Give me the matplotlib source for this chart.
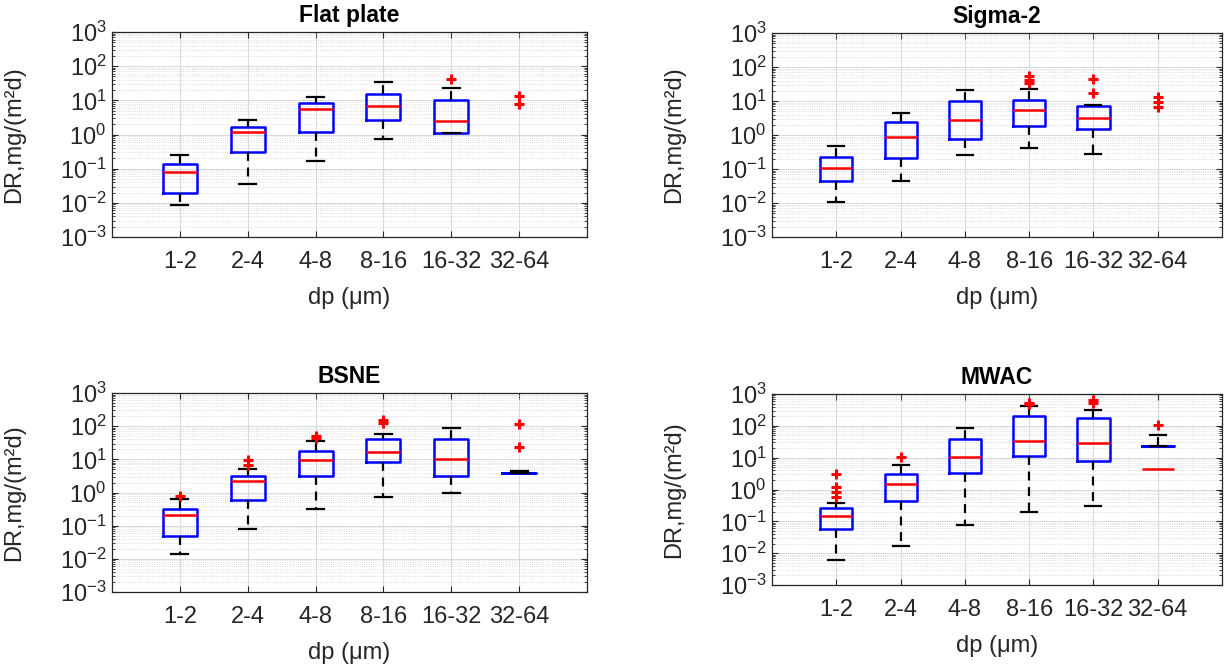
import numpy as np
import matplotlib
matplotlib.use('Agg')
import matplotlib.pyplot as plt
from matplotlib.ticker import LogLocator, NullFormatter

plt.rcParams['font.family'] = ['Liberation Sans', 'DejaVu Sans']
plt.rcParams['mathtext.fontset'] = 'custom'
plt.rcParams['mathtext.rm'] = 'Liberation Sans'
plt.rcParams['mathtext.it'] = 'Liberation Sans:italic'
plt.rcParams['mathtext.bf'] = 'Liberation Sans:bold'

size_classes = ['1-2', '2-4', '4-8', '8-16', '16-32', '32-64']
nan = np.nan

# Flat plate
fp_whislo = [0.0087, 0.035, 0.166, 0.72, 1.07, nan]
fp_q1 = [0.0196, 0.30, 1.2, 2.7, 1.07, nan]
fp_med = [0.081, 1.15, 5.7, 6.7, 2.45, nan]
fp_q3 = [0.135, 1.68, 8.4, 15.0, 10.2, nan]
fp_whishi = [0.25, 2.7, 12.6, 34.0, 23.0, nan]
fp_fliers = [[], [], [], [], [41.5], [13.2, 7.6]]

# Sigma-2
s2_whislo = [0.0104, 0.044, 0.26, 0.41, 0.275, nan]
s2_q1 = [0.043, 0.21, 0.76, 1.8, 1.47, nan]
s2_med = [0.104, 0.87, 2.8, 5.4, 3.1, nan]
s2_q3 = [0.22, 2.45, 10.2, 10.7, 6.9, nan]
s2_whishi = [0.49, 4.4, 21.6, 22.4, 7.6, nan]
s2_fliers = [[], [], [], [55.6, 42.5, 34.0], [44.5, 17.4], [13.5, 9.5, 6.5]]

# BSNE
bs_whislo = [0.014, 0.078, 0.32, 0.74, 1.0, 3.9]
bs_q1 = [0.048, 0.58, 3.1, 8.5, 3.1, 3.9]
bs_med = [0.21, 2.3, 9.3, 16.6, 10.2, 3.9]
bs_q3 = [0.32, 3.1, 18.0, 41.0, 42.0, 3.9]
bs_whishi = [0.64, 5.1, 36.0, 59.0, 88.0, 4.4]
bs_fliers = [[0.76], [9.8, 6.9], [51.0, 43.0], [158.0, 125.0], [], [120.0, 23.5]]

# MWAC
mw_whislo = [0.0059, 0.017, 0.074, 0.20, 0.30, 23.5]
mw_q1 = [0.056, 0.45, 3.4, 11.2, 8.1, 23.5]
mw_med = [0.147, 1.5, 10.4, 34.0, 29.0, 4.3]
mw_q3 = [0.26, 3.1, 39.0, 208.0, 175.0, 23.5]
mw_whishi = [0.37, 6.0, 87.0, 430.0, 313.0, 52.0]
mw_fliers = [[3.0, 1.2, 0.85, 0.6], [10.4], [], [520.0, 480.0], [630.0, 520.0], [108.0]]

panels = [
    ('Flat plate', fp_whislo, fp_q1, fp_med, fp_q3, fp_whishi, fp_fliers),
    ('Sigma-2', s2_whislo, s2_q1, s2_med, s2_q3, s2_whishi, s2_fliers),
    ('BSNE', bs_whislo, bs_q1, bs_med, bs_q3, bs_whishi, bs_fliers),
    ('MWAC', mw_whislo, mw_q1, mw_med, mw_q3, mw_whishi, mw_fliers),
]

W, H = 1224, 672
# axes boxes in pixels: left, top, right, bottom
boxes = [(112, 32, 587, 237), (772, 33, 1222, 237),
         (112, 393, 587, 592), (772, 394, 1222, 585)]

fig = plt.figure(figsize=(12.24, 6.72), dpi=100)

for (title, wl, q1, med, q3, wh, fl), (l, t, r, b) in zip(panels, boxes):
    ax = fig.add_axes([l / W, 1 - b / H, (r - l) / W, (b - t) / H])
    stats = []
    for i in range(len(size_classes)):
        stats.append(dict(whislo=wl[i], q1=q1[i], med=med[i], q3=q3[i],
                          whishi=wh[i], fliers=fl[i], label=size_classes[i]))
    res = ax.bxp(stats, positions=np.arange(1, 7), widths=0.5, capwidths=0.25,
                 boxprops=dict(color='#0000ff', lw=1.8),
                 medianprops=dict(color='#ff0000', lw=1.8),
                 whiskerprops=dict(color='k', lw=1.6, ls=(0, (4, 3))),
                 capprops=dict(color='k', lw=1.6),
                 flierprops=dict(marker='+', markeredgecolor='#ff0000',
                                 markersize=6.5, markeredgewidth=2.2, ls='none'))
    if title == 'BSNE':
        res['medians'][5].set_zorder(1.9)
    ax.set_yscale('log')
    ax.set_ylim(1e-3, 1e3)
    ax.set_xlim(0, 7)
    ax.yaxis.set_major_locator(LogLocator(base=10, numticks=10))
    ax.yaxis.set_minor_locator(LogLocator(base=10, subs=np.arange(2, 10), numticks=20))
    ax.yaxis.set_minor_formatter(NullFormatter())
    ax.grid(True, which='major', color='#d9d9d9', lw=0.7, ls='-')
    ax.grid(True, which='minor', axis='y', color='#d4d4d4', lw=0.6, ls=':')
    ax.set_axisbelow(True)
    ax.tick_params(which='both', direction='in', top=True, right=True,
                   labelsize=17, colors='#262626')
    ax.tick_params(which='major', length=4, width=0.8)
    ax.tick_params(which='minor', length=2.5, width=0.6)
    ax.tick_params(axis='x', pad=10)
    ax.tick_params(axis='y', pad=4)
    for s in ax.spines.values():
        s.set_color('#262626')
        s.set_linewidth(0.9)
    ax.set_title(title, fontsize=16.5, fontweight='bold', pad=7)
    ax.set_xlabel('dp (μm)', fontsize=17, color='#262626', labelpad=10)
    ax.set_ylabel('DR,mg/(m²d)', fontsize=17, color='#262626')
    ax.yaxis.set_label_coords(-87 / (r - l), 0.5)

fig.savefig('out.png', dpi=100)
